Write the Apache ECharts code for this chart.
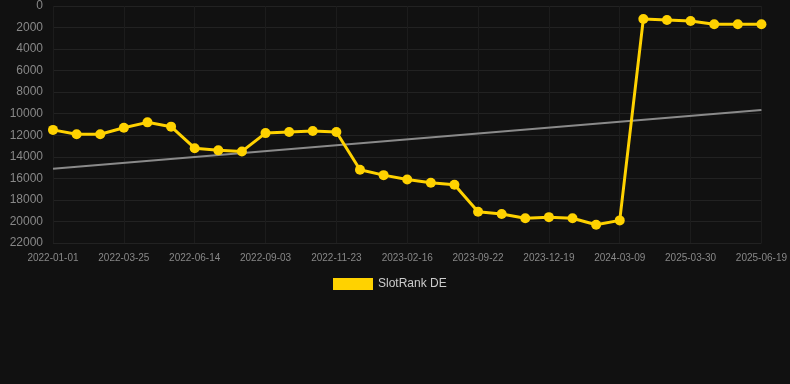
<!DOCTYPE html>
<html><head><meta charset="utf-8">
<script src="https://cdn.jsdelivr.net/npm/echarts@6/dist/echarts.min.js"></script>
<style>html,body{margin:0;padding:0;background:#111111;}#c{width:790px;height:384px;}</style>
</head><body><div id="c"></div>
<script>
var categories = ['2022-01-01','2022-01-28','2022-02-25','2022-03-25','2022-04-21','2022-05-18','2022-06-14','2022-07-11','2022-08-07','2022-09-03','2022-09-30','2022-10-27','2022-11-23','2022-12-20','2023-01-19','2023-02-16','2023-05-01','2023-07-15','2023-09-22','2023-10-20','2023-11-20','2023-12-19','2024-01-15','2024-02-10','2024-03-09','2024-12-01','2025-01-20','2025-03-30','2025-04-25','2025-05-22','2025-06-19'];
var slotRankDE = [11500,11900,11900,11300,10800,11200,13200,13400,13500,11800,11700,11600,11700,15200,15700,16100,16400,16600,19100,19300,19700,19600,19700,20300,19900,1200,1300,1400,1700,1700,1700];
var trendEnds = [15100, 9650];
var yTicks = [0,2000,4000,6000,8000,10000,12000,14000,16000,18000,20000,22000];

var trendData = categories.map(function(c,i){ return i===0 ? trendEnds[0] : (i===categories.length-1 ? trendEnds[1] : null); });

var chart = echarts.init(document.getElementById('c'));
chart.setOption({
  backgroundColor:'#111111',
  animation:false,
  grid:{left:53,right:28,top:6,bottom:141},
  legend:{
    data:[{name:'SlotRank DE',icon:'rect'}],
    top:273, left:328, itemWidth:40, itemHeight:12,
    textStyle:{color:'#cccccc',fontSize:12,fontFamily:'Liberation Sans, Arial, sans-serif'}
  },
  xAxis:{
    type:'category', data:categories, boundaryGap:false,
    axisLine:{show:false},
    axisTick:{show:false},
    axisLabel:{interval:2,color:'#888888',fontSize:10,fontFamily:'Liberation Sans, Arial, sans-serif',margin:10},
    splitLine:{show:true,interval:2,lineStyle:{color:'#1c1c1c',width:1}}
  },
  yAxis:{
    type:'value', inverse:true, min:yTicks[0], max:yTicks[yTicks.length-1], interval:2000,
    axisLine:{show:false}, axisTick:{show:false},
    axisLabel:{color:'#888888',fontSize:12,fontFamily:'Liberation Sans, Arial, sans-serif',margin:10,
      formatter:function(v){return String(v);}},
    splitLine:{lineStyle:{color:'#222222',width:1}}
  },
  series:[
    {name:'Trend',type:'line',data:trendData,connectNulls:true,symbol:'none',
     lineStyle:{color:'#8a8a8a',width:2},itemStyle:{color:'#8a8a8a'},z:1},
    {name:'SlotRank DE',type:'line',data:slotRankDE,symbol:'circle',symbolSize:10,
     lineStyle:{color:'#ffd200',width:3},itemStyle:{color:'#ffd200'},z:2}
  ]
});
</script></body></html>
